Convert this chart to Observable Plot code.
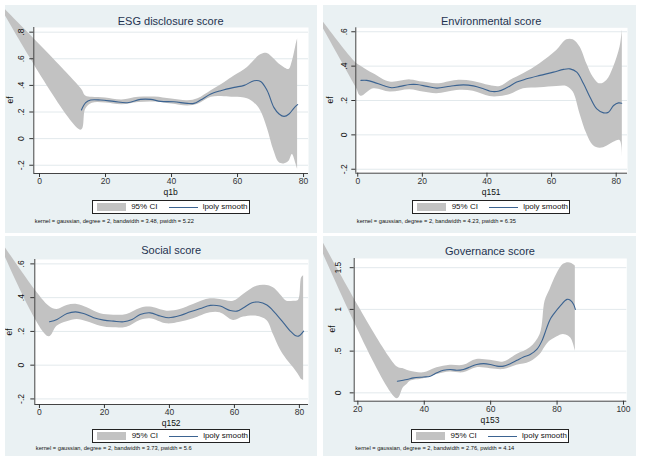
<!DOCTYPE html>
<html>
<head>
<meta charset="utf-8">
<script src="https://cdn.jsdelivr.net/npm/d3@7"></script>
<script src="https://cdn.jsdelivr.net/npm/@observablehq/plot@0.6"></script>
<style>
  body { margin: 0; background: #ffffff; font-family: "Liberation Sans", Arial, sans-serif; }
  #root { position: relative; width: 646px; height: 468px; overflow: hidden; }
  .panel { position: absolute; background: #eaf1f3; overflow: hidden; }
  .panel svg { position: absolute; left: 0; top: 0; display: block; }
  .t { position: absolute; white-space: nowrap; line-height: 1; transform: translate(-50%, -50%); color: #111; }
  .title { font-size: 11px; color: #1f3350; }
  .ax { font-size: 8.5px; }
  .ef { font-size: 8.5px; transform: translate(-50%, -50%) rotate(-90deg); }
  .note { position: absolute; white-space: nowrap; line-height: 1; font-size: 5.7px; color: #111; transform: translateY(-50%); }
  .legend { position: absolute; width: 158px; height: 13.5px; box-sizing: border-box; border: 1px solid #222; background: #fff; }
  .legend .sw { position: absolute; left: 4px; top: 2px; width: 29px; height: 7.5px; background: #c2c2c2; }
  .legend .ln { position: absolute; left: 76px; top: 5.5px; width: 29px; height: 0; border-top: 1px solid #3b6391; }
  .legend .lt { position: absolute; top: 50%; transform: translateY(-50%); font-size: 8px; line-height: 1; color: #111; white-space: nowrap; }
</style>
</head>
<body>
<div id="root"></div>
<script>
// ---------- Panel titles, axis titles, notes ----------
const titles = ["ESG disclosure score", "Environmental score", "Social score", "Governance score"];
const xTitles = ["q1b", "q151", "q152", "q153"];
const yTitle = "ef";
const legendLabels = ["95% CI", "lpoly smooth"];
const notes = [
  "kernel = gaussian, degree = 2, bandwidth = 3.48, pwidth = 5.22",
  "kernel = gaussian, degree = 2, bandwidth = 4.23, pwidth = 6.35",
  "kernel = gaussian, degree = 2, bandwidth = 3.73, pwidth = 5.6",
  "kernel = gaussian, degree = 2, bandwidth = 2.76, pwidth = 4.14"
];

// ---------- Tick values ----------
const xTicksESG = [0, 20, 40, 60, 80];
const yTicksESG = [-0.2, 0, 0.2, 0.4, 0.6, 0.8];
const xTicksEnv = [0, 20, 40, 60, 80];
const yTicksEnv = [-0.2, 0, 0.2, 0.4, 0.6];
const xTicksSoc = [0, 20, 40, 60, 80];
const yTicksSoc = [-0.2, 0, 0.2, 0.4, 0.6];
const xTicksGov = [20, 40, 60, 80, 100];
const yTicksGov = [0, 0.5, 1, 1.5];

// ---------- ESG disclosure score ----------
const bandXESG  = [-12.8, 12.7, 14, 16, 20, 25, 30, 35, 40, 45, 48, 52, 56, 59, 63, 65, 67, 69, 71, 72.6, 74.1, 75.6, 76.6, 77.7, 78.2];
const bandHiESG = [1.03, 0.373, 0.32, 0.31, 0.305, 0.29, 0.31, 0.312, 0.297, 0.285, 0.30, 0.36, 0.42, 0.47, 0.535, 0.586, 0.63, 0.64, 0.60, 0.56, 0.535, 0.52, 0.58, 0.70, 0.75];
const bandLoESG = [1.03, 0.064, 0.22, 0.265, 0.268, 0.255, 0.272, 0.275, 0.26, 0.245, 0.258, 0.31, 0.315, 0.31, 0.30, 0.27, 0.21, 0.08, -0.09, -0.18, -0.19, -0.17, -0.12, -0.19, -0.23];
const lineXESG  = [12.7, 14, 15.5, 18.5, 22.5, 26.6, 30.6, 33.7, 36.7, 40.7, 44.8, 46.8, 48.8, 51.9, 54.9, 59, 62, 65, 67, 69, 71, 72.6, 74.1, 75.6, 77.1, 78.2];
const lineYESG  = [0.215, 0.27, 0.29, 0.29, 0.28, 0.27, 0.295, 0.295, 0.28, 0.277, 0.265, 0.265, 0.29, 0.335, 0.36, 0.385, 0.40, 0.435, 0.43, 0.36, 0.235, 0.185, 0.167, 0.185, 0.23, 0.255];

// ---------- Environmental score ----------
const bandXEnv  = [-15.2, -0.6, 1.0, 4.9, 10.0, 16.2, 20.3, 24.5, 30.7, 35.8, 40.9, 44.1, 47.2, 51.3, 56.4, 61.6, 64.7, 66.7, 68.8, 70.9, 72.9, 75.0, 77.1, 79.2, 81.2, 81.9];
const bandHiEnv = [0.77, 0.42, 0.40, 0.355, 0.307, 0.32, 0.307, 0.297, 0.317, 0.311, 0.287, 0.282, 0.317, 0.355, 0.414, 0.491, 0.553, 0.553, 0.511, 0.414, 0.336, 0.297, 0.317, 0.394, 0.511, 0.612];
const bandLoEnv = [0.77, 0.28, 0.225, 0.268, 0.249, 0.262, 0.249, 0.239, 0.258, 0.254, 0.223, 0.223, 0.235, 0.268, 0.274, 0.282, 0.282, 0.249, 0.122, 0.006, -0.062, -0.078, -0.066, -0.043, -0.033, -0.13];
const lineXEnv  = [1, 2.8, 4.9, 7.9, 10.5, 13.1, 16.2, 18.3, 21.4, 24.5, 28.6, 32.7, 35.8, 38.9, 41, 43.5, 46.1, 49.2, 52.3, 56.4, 60.6, 63.7, 65.7, 67.8, 69.9, 71.9, 74, 76.1, 77.6, 79.2, 80.7, 81.7];
const lineYEnv  = [0.317, 0.317, 0.307, 0.287, 0.274, 0.282, 0.293, 0.293, 0.282, 0.272, 0.283, 0.291, 0.285, 0.268, 0.254, 0.254, 0.274, 0.307, 0.326, 0.346, 0.365, 0.381, 0.384, 0.365, 0.297, 0.219, 0.151, 0.128, 0.132, 0.171, 0.186, 0.184];

// ---------- Social score ----------
const bandXSoc  = [-14.1, 2.9, 5.4, 8.5, 11.6, 14.7, 18.8, 22.8, 26.9, 31.0, 34.1, 39.2, 43.3, 47.4, 52.6, 55.6, 59.7, 62.8, 66.9, 70.0, 72.0, 74.1, 76.1, 78.2, 79.7, 80.7, 81.3];
const bandHiSoc = [0.80, 0.35, 0.33, 0.354, 0.36, 0.34, 0.304, 0.296, 0.30, 0.336, 0.344, 0.32, 0.33, 0.36, 0.393, 0.389, 0.379, 0.419, 0.468, 0.472, 0.458, 0.419, 0.379, 0.379, 0.383, 0.518, 0.53];
const bandLoSoc = [0.80, 0.168, 0.231, 0.257, 0.271, 0.257, 0.231, 0.221, 0.225, 0.265, 0.275, 0.245, 0.255, 0.275, 0.31, 0.31, 0.265, 0.285, 0.29, 0.265, 0.182, 0.093, 0.034, -0.016, -0.055, -0.085, -0.09];
const lineXSoc  = [3.1, 5.4, 8.5, 11.1, 13.6, 16.7, 19.8, 22.8, 25.9, 28.5, 31, 34.1, 37.2, 39.8, 43.3, 46.4, 49.5, 52.6, 55.6, 58.7, 60.8, 62.8, 65.4, 67.4, 70, 72.5, 75.1, 77.2, 78.7, 79.7, 81.3];
const lineYSoc  = [0.257, 0.271, 0.306, 0.316, 0.306, 0.281, 0.267, 0.261, 0.257, 0.271, 0.300, 0.310, 0.291, 0.281, 0.294, 0.316, 0.336, 0.354, 0.350, 0.324, 0.320, 0.340, 0.370, 0.374, 0.356, 0.310, 0.251, 0.202, 0.176, 0.172, 0.202];

// ---------- Governance score ----------
const bandXGov  = [2.1, 31.9, 33.7, 34.8, 35.8, 39.8, 43.8, 47.8, 51.8, 55.8, 59.9, 63.9, 67.9, 71.9, 74.9, 76.4, 77.9, 79.9, 81.9, 83.4, 84.4, 85.5];
const bandHiGov = [2.35, 0.31, 0.29, 0.27, 0.26, 0.24, 0.30, 0.33, 0.33, 0.40, 0.39, 0.37, 0.46, 0.54, 0.70, 1.10, 1.24, 1.42, 1.54, 1.56, 1.55, 1.52];
const bandLoGov = [2.35, -0.07, 0.06, 0.10, 0.14, 0.17, 0.22, 0.25, 0.24, 0.30, 0.29, 0.28, 0.33, 0.37, 0.46, 0.55, 0.62, 0.67, 0.70, 0.68, 0.64, 0.50];
const lineXGov  = [31.9, 34.8, 36.8, 39.8, 41.8, 43.8, 45.8, 47.8, 49.8, 51.8, 53.8, 55.8, 57.9, 59.9, 61.9, 63.9, 65.9, 67.9, 69.9, 71.9, 73.9, 75.4, 76.9, 77.9, 78.9, 80.9, 83, 84, 85, 85.5];
const lineYGov  = [0.14, 0.16, 0.18, 0.19, 0.20, 0.24, 0.27, 0.28, 0.27, 0.28, 0.31, 0.34, 0.35, 0.34, 0.32, 0.32, 0.35, 0.39, 0.43, 0.46, 0.52, 0.62, 0.78, 0.88, 0.94, 1.04, 1.12, 1.11, 1.06, 1.0];

// ---------- Layout (positions only) ----------
const layouts = [
  {left: 5,   top: 5,   w: 312, h: 228, ml: 28.3, mr: 9,   mt: 22,   mb: 60,   xDomain: [-1.73, 81.5], yDomain: [-0.262, 0.835], titleY: 16,   legendTop: 195, noteY: 216.7, efX: 4.5, yLabOff: 12.6},
  {left: 323, top: 5,   w: 313, h: 228, ml: 32.3, mr: 9,   mt: 22.3, mb: 60.3, xDomain: [-0.6, 83.5],  yDomain: [-0.223, 0.623], titleY: 15.5, legendTop: 195, noteY: 216.7, efX: 6.5, yLabOff: 11.6},
  {left: 5,   top: 236, w: 312, h: 220, ml: 29.3, mr: 9,   mt: 23,   mb: 52,   xDomain: [-1.43, 82.8], yDomain: [-0.233, 0.626], titleY: 13.5, legendTop: 193, noteY: 213,   efX: 4,   yLabOff: 13.6},
  {left: 323, top: 236, w: 313, h: 220, ml: 30.7, mr: 9.7, mt: 22,   mb: 55.3, xDomain: [18.9, 101],   yDomain: [-0.1, 1.61],    titleY: 14.5, legendTop: 193, noteY: 213,   efX: 8.5, yLabOff: 16.4}
];

const series = [
  {bandX: bandXESG, bandHi: bandHiESG, bandLo: bandLoESG, lineX: lineXESG, lineY: lineYESG, xTicks: xTicksESG, yTicks: yTicksESG},
  {bandX: bandXEnv, bandHi: bandHiEnv, bandLo: bandLoEnv, lineX: lineXEnv, lineY: lineYEnv, xTicks: xTicksEnv, yTicks: yTicksEnv},
  {bandX: bandXSoc, bandHi: bandHiSoc, bandLo: bandLoSoc, lineX: lineXSoc, lineY: lineYSoc, xTicks: xTicksSoc, yTicks: yTicksSoc},
  {bandX: bandXGov, bandHi: bandHiGov, bandLo: bandLoGov, lineX: lineXGov, lineY: lineYGov, xTicks: xTicksGov, yTicks: yTicksGov}
];

const fmtY = d => d === 0 ? "0" : String(d).replace(/^(-?)0\./, "$1.");
const root = document.getElementById("root");

function addText(parent, cls, text, x, y) {
  const el = document.createElement("div");
  el.className = cls;
  el.textContent = text;
  el.style.left = x + "px";
  el.style.top = y + "px";
  parent.appendChild(el);
  return el;
}

series.forEach((s, i) => {
  const L = layouts[i];
  const div = document.createElement("div");
  div.className = "panel";
  Object.assign(div.style, {left: L.left + "px", top: L.top + "px", width: L.w + "px", height: L.h + "px"});
  root.appendChild(div);

  const band = s.bandX.map((x, k) => ({x, lo: s.bandLo[k], hi: s.bandHi[k]}));
  const line = s.lineX.map((x, k) => ({x, y: s.lineY[k]}));

  const chart = Plot.plot({
    width: L.w, height: L.h,
    marginLeft: L.ml, marginRight: L.mr, marginTop: L.mt, marginBottom: L.mb,
    x: {domain: L.xDomain},
    y: {domain: L.yDomain},
    style: {background: "transparent", overflow: "hidden", fontFamily: "Liberation Sans, Arial, sans-serif", color: "#333"},
    marks: [
      Plot.frame({fill: "white", stroke: "none"}),
      Plot.ruleY(s.yTicks, {stroke: "#e2e9ec", strokeWidth: 1}),
      Plot.areaY(band, {x: "x", y1: "lo", y2: "hi", fill: "#c2c2c2", curve: "catmull-rom"}),
      Plot.line(line, {x: "x", y: "y", stroke: "#3b6391", strokeWidth: 1.1, curve: "catmull-rom"}),
      Plot.ruleX([L.xDomain[0]], {stroke: "#444", strokeWidth: 1}),
      Plot.ruleY([L.yDomain[0]], {stroke: "#444", strokeWidth: 1}),
      Plot.axisX({ticks: s.xTicks, tickSize: 4, tickPadding: 0.5, fontSize: 8.5, label: null, tickFormat: d => String(d)}),
      Plot.axisY({ticks: s.yTicks, tickSize: 4, tickFormat: () => "", label: null}),
      Plot.text(s.yTicks, {frameAnchor: "left", y: d => d, text: fmtY, rotate: -90, dx: -L.yLabOff, fontSize: 8.5, textAnchor: "middle", lineAnchor: "middle", fill: "#111"})
    ]
  });
  div.appendChild(chart);

  const plotW = L.w - L.ml - L.mr;
  const plotH = L.h - L.mt - L.mb;
  const cx = L.ml + plotW / 2;
  const bottom = L.h - L.mb;

  addText(div, "t title", titles[i], cx, L.titleY);
  addText(div, "t ax", xTitles[i], cx, bottom + 19);
  addText(div, "t ef", yTitle, L.efX, L.mt + plotH / 2);

  const lg = document.createElement("div");
  lg.className = "legend";
  lg.style.left = (cx - 79) + "px";
  lg.style.top = L.legendTop + "px";
  lg.innerHTML = '<div class="sw"></div><div class="lt" style="left:38.5px"></div><div class="ln"></div><div class="lt" style="left:110px"></div>';
  const lts = lg.querySelectorAll(".lt");
  lts[0].textContent = legendLabels[0];
  lts[1].textContent = legendLabels[1];
  div.appendChild(lg);

  const nt = document.createElement("div");
  nt.className = "note";
  nt.textContent = notes[i];
  nt.style.left = (L.ml + 1.5) + "px";
  nt.style.top = L.noteY + "px";
  div.appendChild(nt);
});
</script>
</body>
</html>
